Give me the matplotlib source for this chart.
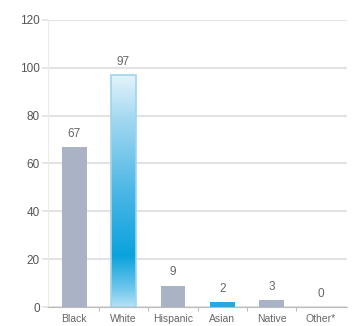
import numpy as np
import matplotlib
matplotlib.use("Agg")
import matplotlib.pyplot as plt
from matplotlib.colors import LinearSegmentedColormap

categories = ["Black", "White", "Hispanic", "Asian", "Native", "Other*"]
values = [67, 97, 9, 2, 3, 0]
yticks = [0, 20, 40, 60, 80, 100, 120]

plt.rcParams["font.family"] = "Liberation Sans"

fig = plt.figure(figsize=(3.57, 3.26), dpi=100)
ax = fig.add_axes([0.1345, 0.058, 0.838, 0.881])

x = np.arange(len(categories))
gray_bar = "#a9b3c5"
colors = [gray_bar, "none", gray_bar, "#2ba7dd", gray_bar, gray_bar]
bars = ax.bar(x, values, width=0.5, color=colors, zorder=3)

# gradient fill for the White bar
white_bar = bars[1]
cmap = LinearSegmentedColormap.from_list(
    "wb", [(0.0, "#b5e1f5"), (0.08, "#6cc6ec"), (0.22, "#0aa2dc"),
           (0.5, "#4db7e6"), (0.8, "#a0d7f1"), (1.0, "#e6f4fb")])
grad = np.linspace(0, 1, 256).reshape(-1, 1)
bx, bw, bh = white_bar.get_x(), white_bar.get_width(), white_bar.get_height()
im = ax.imshow(grad, cmap=cmap, origin="lower", aspect="auto",
               extent=[bx, bx + bw, 0, bh], zorder=3)
im.set_clip_path(white_bar)
ax.bar(x[1], values[1], width=0.5, color="none", edgecolor="#9fd4ee", lw=1.2, zorder=4)

for xi, v in zip(x, values):
    ax.text(xi, v + 3, str(v), ha="center", va="bottom", fontsize=8.5, color="#666666")

ax.set_xlim(-0.53, 5.53)
ax.set_ylim(0, 120)
ax.set_yticks(yticks)
ax.set_yticklabels([str(t) for t in yticks], fontsize=8.5, color="#555555")
ax.set_xticks(x)
ax.set_xticklabels(categories, fontsize=7.5, color="#666666")
ax.tick_params(axis="x", length=0, pad=5)
ax.tick_params(axis="y", length=4, color="#e3e3e3", width=1.2, pad=2)
ax.set_xticks(np.arange(0.5, 5, 1), minor=True)
ax.tick_params(axis="x", which="minor", length=3, color="#bbbbbb", width=0.8)

ax.grid(axis="y", color="#e3e3e3", lw=1.5, zorder=0)
for s in ["top", "right"]:
    ax.spines[s].set_visible(False)
ax.spines["left"].set_color("#ececec")
ax.spines["bottom"].set_color("#bbbbbb")
ax.spines["bottom"].set_linewidth(0.8)

fig.savefig("out.png", dpi=100)
